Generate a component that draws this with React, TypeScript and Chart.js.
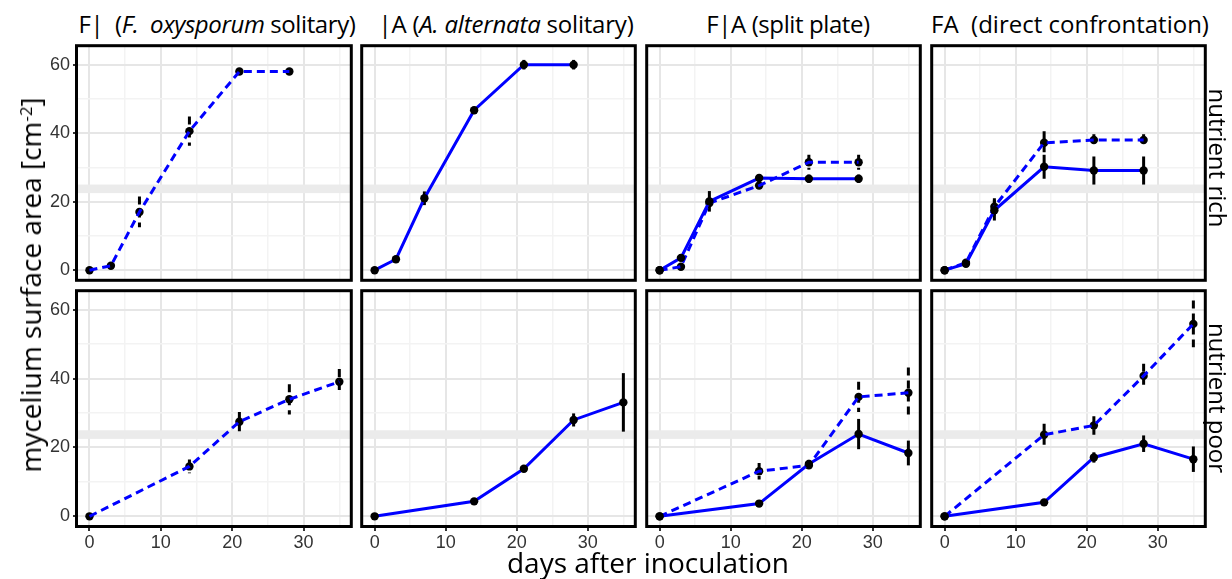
import React, { useEffect, useRef } from "react";
import { Chart, registerables } from "chart.js";
Chart.register(...registerables);

// ---------------- data ----------------
const daysRich = [0, 3, 7, 14, 21, 28];
const daysPoor = [0, 14, 21, 28, 35];

// nutrient rich
const fSoloRich = [0, 1.3, 17.0, 40.6, 58.0, 58.0];
const fSoloRichSd = [0.3, 0.5, 4.5, 4.3, 0.6, 0.6];
const aSoloRich = [0, 3.2, 21.0, 46.7, 60.0, 60.0];
const aSoloRichSd = [0.2, 0.5, 2.0, 1.0, 1.4, 1.4];
const aSplitRich = [0, 3.6, 20.1, 26.9, 26.7, 26.7];
const aSplitRichSd = [0.2, 0.6, 3.0, 0.8, 1.2, 1.2];
const fSplitRich = [0, 1.0, 19.6, 24.7, 31.5, 31.5];
const fSplitRichSd = [0.2, 0.4, 1.5, 1.0, 2.2, 2.2];
const aDirectRich = [0, 1.9, 17.5, 30.2, 29.1, 29.1];
const aDirectRichSd = [0.2, 0.5, 3.0, 3.5, 4.1, 4.1];
const fDirectRich = [0, 2.2, 18.5, 37.2, 38.0, 38.0];
const fDirectRichSd = [0.2, 0.5, 2.5, 3.4, 1.7, 1.7];

// nutrient poor
const fSoloPoor = [0, 14.5, 27.5, 34.0, 39.1];
const fSoloPoorSd = [0.3, 2.0, 2.8, 4.4, 3.7];
const aSoloPoor = [0, 4.35, 13.8, 28.0, 33.1];
const aSoloPoorSd = [0.2, 0.5, 0.8, 1.9, 8.5];
const aSplitPoor = [0, 3.7, 15.2, 23.9, 18.4];
const aSplitPoorSd = [0.2, 0.5, 1.2, 4.4, 3.6];
const fSplitPoor = [0, 13.1, 14.8, 34.7, 35.9];
const fSplitPoorSd = [0.2, 2.4, 1.5, 4.4, 7.3];
const aDirectPoor = [0, 4.06, 17.1, 21.1, 16.6];
const aDirectPoorSd = [0.2, 0.5, 1.5, 2.4, 3.7];
const fDirectPoor = [0, 23.7, 26.4, 40.8, 55.9];
const fDirectPoorSd = [0.2, 3.2, 2.7, 3.5, 6.8];

// axis ticks
const xTickValues = [0, 5, 10, 15, 20, 25, 30, 35];
const xMajorTicks = [0, 10, 20, 30];
const yTickValues = [0, 10, 20, 30, 40, 50, 60];
const yMajorTicks = [0, 20, 40, 60];
const xRange = [-1.75, 36.75];
const yRange = [-3.1, 65.4];
const bandRange = [22.5, 25];

const columnTitles = ["F|", "|A", "F|A (split plate)", "FA  (direct confrontation)"];
const rowLabels = ["nutrient rich", "nutrient poor"];

// ---------------- layout ----------------
const AREA_LEFT = [77, 361, 646, 931];
const AREA_TOP = [45, 290];
const AREA_W = 276;
const AREA_H = 237;
const PAD = 3;
const Y_W = 40;
const X_H = 30;

type Series = { values: number[]; sd: number[]; dashed: boolean };
type PanelDef = { days: number[]; series: Series[] };

const panels: PanelDef[][] = [
  [
    { days: daysRich, series: [{ values: fSoloRich, sd: fSoloRichSd, dashed: true }] },
    { days: daysRich, series: [{ values: aSoloRich, sd: aSoloRichSd, dashed: false }] },
    {
      days: daysRich,
      series: [
        { values: fSplitRich, sd: fSplitRichSd, dashed: true },
        { values: aSplitRich, sd: aSplitRichSd, dashed: false },
      ],
    },
    {
      days: daysRich,
      series: [
        { values: fDirectRich, sd: fDirectRichSd, dashed: true },
        { values: aDirectRich, sd: aDirectRichSd, dashed: false },
      ],
    },
  ],
  [
    { days: daysPoor, series: [{ values: fSoloPoor, sd: fSoloPoorSd, dashed: true }] },
    { days: daysPoor, series: [{ values: aSoloPoor, sd: aSoloPoorSd, dashed: false }] },
    {
      days: daysPoor,
      series: [
        { values: fSplitPoor, sd: fSplitPoorSd, dashed: true },
        { values: aSplitPoor, sd: aSplitPoorSd, dashed: false },
      ],
    },
    {
      days: daysPoor,
      series: [
        { values: fDirectPoor, sd: fDirectPoorSd, dashed: true },
        { values: aDirectPoor, sd: aDirectPoorSd, dashed: false },
      ],
    },
  ],
];

const BLUE = "#0000ff";
const DASH = [8, 5];
const LINE_W = 3;
const POINT_R = 4.2;
const TICK_FONT = { family: '"Liberation Sans", Arial, sans-serif', size: 18 };
const TEXT_FONT = '"Open Sans", "Noto Sans", sans-serif';

function zeroPad(s: any) {
  s.paddingTop = 0;
  s.paddingBottom = 0;
  s.paddingLeft = 0;
  s.paddingRight = 0;
}

function Panel({ def, row, col }: { def: PanelDef; row: number; col: number }) {
  const ref = useRef<HTMLCanvasElement>(null);
  const showY = col === 0;
  const showX = row === 1;
  const left = AREA_LEFT[col] - PAD - (showY ? Y_W : 0);
  const top = AREA_TOP[row] - PAD;
  const width = AREA_W + 2 * PAD + (showY ? Y_W : 0);
  const height = AREA_H + 2 * PAD + (showX ? X_H : 0);

  useEffect(() => {
    const { days, series } = def;
    const datasets: any[] = [];
    series.forEach((s) => {
      const pts = days.map((d, j) => ({ x: d, y: s.values[j] }));
      if (s.dashed) {
        datasets.push({
          data: pts,
          showLine: false,
          pointRadius: POINT_R,
          pointBackgroundColor: "#000",
          pointBorderWidth: 0,
          order: 4,
        });
        datasets.push({
          data: pts,
          borderColor: BLUE,
          borderWidth: LINE_W,
          borderDash: DASH,
          pointRadius: 0,
          fill: false,
          order: 3,
        });
      } else {
        datasets.push({
          data: pts,
          borderColor: BLUE,
          borderWidth: LINE_W,
          pointRadius: POINT_R,
          pointBackgroundColor: "#000",
          pointBorderWidth: 0,
          fill: false,
          order: 1,
        });
      }
    });

    const bandPlugin = {
      id: "band",
      beforeDatasetsDraw(chart: any) {
        const { ctx, chartArea, scales } = chart;
        const y1 = scales.y.getPixelForValue(bandRange[1]);
        const y0 = scales.y.getPixelForValue(bandRange[0]);
        ctx.save();
        ctx.fillStyle = "#ebebeb";
        ctx.fillRect(chartArea.left, y1, chartArea.right - chartArea.left, y0 - y1);
        ctx.restore();
      },
    };

    const errPlugin = {
      id: "errbars",
      beforeDatasetsDraw(chart: any) {
        const { ctx, scales } = chart;
        ctx.save();
        ctx.strokeStyle = "#000";
        ctx.lineWidth = 3;
        ctx.lineCap = "butt";
        series.forEach((s) => {
          ctx.setLineDash(s.dashed ? DASH : []);
          days.forEach((d, j) => {
            const px = scales.x.getPixelForValue(d);
            const yTop = scales.y.getPixelForValue(s.values[j] + s.sd[j]);
            const yBot = scales.y.getPixelForValue(s.values[j] - s.sd[j]);
            ctx.beginPath();
            ctx.moveTo(px, yTop);
            ctx.lineTo(px, yBot);
            ctx.stroke();
          });
        });
        ctx.restore();
      },
    };

    const borderPlugin = {
      id: "panelBorder",
      afterDraw(chart: any) {
        const { ctx, chartArea } = chart;
        ctx.save();
        ctx.strokeStyle = "#000";
        ctx.lineWidth = 3;
        ctx.setLineDash([]);
        ctx.strokeRect(
          chartArea.left - 0.5,
          chartArea.top - 0.5,
          chartArea.right - chartArea.left,
          chartArea.bottom - chartArea.top
        );
        ctx.restore();
      },
    };

    const chart = new Chart(ref.current as HTMLCanvasElement, {
      type: "line",
      data: { datasets },
      plugins: [bandPlugin, errPlugin, borderPlugin],
      options: {
        animation: false,
        responsive: false,
        maintainAspectRatio: false,
        events: [],
        layout: { padding: PAD },
        plugins: { legend: { display: false }, tooltip: { enabled: false }, title: { display: false } },
        scales: {
          x: {
            type: "linear",
            min: xRange[0],
            max: xRange[1],
            afterBuildTicks: (s: any) => {
              s.ticks = xTickValues.map((v) => ({ value: v }));
            },
            afterFit: (s: any) => {
              s.height = showX ? X_H : 0;
              zeroPad(s);
            },
            border: { display: false },
            grid: {
              drawTicks: showX,
              tickLength: 4,
              color: (c: any) => (xMajorTicks.includes(c.tick?.value) ? "#e6e6e6" : "#f3f3f3"),
              lineWidth: (c: any) => (xMajorTicks.includes(c.tick?.value) ? 2 : 1.5),
              tickColor: (c: any) => (xMajorTicks.includes(c.tick?.value) ? "#333" : "rgba(0,0,0,0)"),
              tickWidth: 2,
            },
            ticks: {
              display: showX,
              autoSkip: false,
              maxRotation: 0,
              padding: 1,
              color: "#333",
              font: TICK_FONT,
              callback: (v: any) => (xMajorTicks.includes(v) ? String(v) : ""),
            },
          },
          y: {
            type: "linear",
            min: yRange[0],
            max: yRange[1],
            afterBuildTicks: (s: any) => {
              s.ticks = yTickValues.map((v) => ({ value: v }));
            },
            afterFit: (s: any) => {
              s.width = showY ? Y_W : 0;
              zeroPad(s);
            },
            border: { display: false },
            grid: {
              drawTicks: showY,
              tickLength: 4,
              color: (c: any) => (yMajorTicks.includes(c.tick?.value) ? "#e6e6e6" : "#f3f3f3"),
              lineWidth: (c: any) => (yMajorTicks.includes(c.tick?.value) ? 2 : 1.5),
              tickColor: (c: any) => (yMajorTicks.includes(c.tick?.value) ? "#333" : "rgba(0,0,0,0)"),
              tickWidth: 2,
            },
            ticks: {
              display: showY,
              autoSkip: false,
              padding: 3,
              color: "#333",
              font: TICK_FONT,
              callback: (v: any) => (yMajorTicks.includes(v) ? String(v) : ""),
            },
          },
        },
      } as any,
    });
    return () => chart.destroy();
  }, []);

  return (
    <canvas
      ref={ref}
      width={width}
      height={height}
      style={{ position: "absolute", left, top, width, height }}
    />
  );
}

const centered = (cx: number, cy: number, size: number, rot = 0, ls = 0): React.CSSProperties => ({
  position: "absolute",
  left: cx,
  top: cy,
  transform: `translate(-50%, -50%) rotate(${rot}deg)`,
  fontFamily: TEXT_FONT,
  fontSize: size,
  lineHeight: `${size}px`,
  letterSpacing: ls,
  whiteSpace: "pre",
  color: "#000",
});

export default function App() {
  const titleCx = [217, 506, 788, 1070];
  const titleCy = 23.7;
  return (
    <div
      style={{
        position: "absolute",
        left: 0,
        top: 0,
        width: 1232,
        height: 579,
        overflow: "hidden",
        background: "#fff",
      }}
    >
      {panels.map((rowDefs, r) =>
        rowDefs.map((def, c) => <Panel key={`${r}-${c}`} def={def} row={r} col={c} />)
      )}
      <div style={centered(titleCx[0], titleCy, 24, 0, -0.4)}>
        {columnTitles[0]}
        {"  ("}
        <i>{"F.  oxysporum"}</i>
        {" solitary)"}
      </div>
      <div style={centered(titleCx[1], titleCy, 24, 0, -0.2)}>
        {columnTitles[1]}
        {" ("}
        <i>{"A. alternata"}</i>
        {" solitary)"}
      </div>
      <div style={centered(titleCx[2], titleCy, 24, 0, -0.4)}>{columnTitles[2]}</div>
      <div style={centered(titleCx[3], titleCy, 24)}>{columnTitles[3]}</div>
      <div style={centered(1218, 158, 24, 90)}>{rowLabels[0]}</div>
      <div style={centered(1218, 398, 24, 90)}>{rowLabels[1]}</div>
      <div style={centered(30, 285, 28, -90)}>
        mycelium surface area [cm<sup style={{ fontSize: "0.6em", verticalAlign: "0.55em", lineHeight: 0 }}>-2</sup>]
      </div>
      <div style={centered(648, 562, 28)}>days after inoculation</div>
    </div>
  );
}
